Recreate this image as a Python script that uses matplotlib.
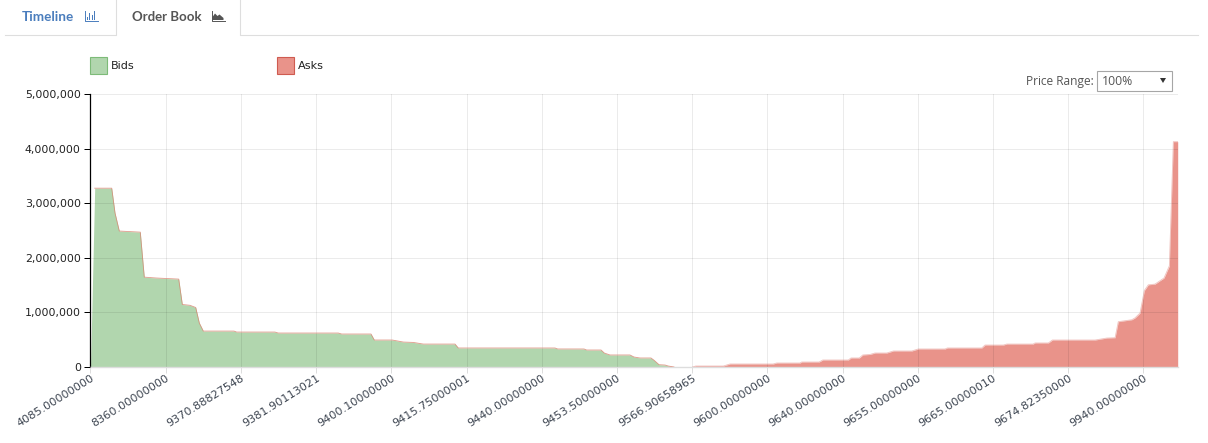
import matplotlib
matplotlib.use("Agg")
import matplotlib.pyplot as plt
from matplotlib.patches import Rectangle, Polygon
from matplotlib.ticker import FuncFormatter

W, H = 1208, 443

tick_labels = ["4085.00000000", "8360.00000000", "9370.88827548", "9381.90113021",
               "9400.10000000", "9415.75000001", "9440.00000000", "9453.50000000",
               "9566.90658965", "9600.00000000", "9640.00000000", "9655.00000000",
               "9665.00000010", "9674.82350000", "9940.00000000"]

bid_levels = [0, .56, 2.82, 3.26, 3.83, 6.62, 7.15, 8.71, 11.73, 12.21, 13.23, 13.99, 14.47,
              15.0, 19.08, 19.44, 24.53, 24.97, 32.95, 33.4, 37.3, 37.74, 40.13, 41.6, 42.93,
              44.26, 48.47, 48.91, 61.77, 62.13, 65.63, 65.98, 67.89, 68.32, 69.08, 71.74,
              72.27, 73.07, 74.53, 74.97, 75.6, 76.4, 76.83, 77.59]
bid_depth = [0, 3275000, 3275000, 2820000, 2490000, 2470000, 1646000, 1630000, 1610000, 1145000,
             1130000, 1090000, 805000, 658000, 658000, 640000, 640000, 622000, 622000, 604000,
             604000, 494000, 494000, 457000, 450000, 420000, 420000, 348000, 348000, 330000,
             330000, 311000, 311000, 256000, 220000, 220000, 183000, 165000, 165000, 120000,
             42000, 36000, 18000, 0]

ask_levels = [80.08, 80.48, 84.15, 85.04, 90.76, 91.25, 94.35, 94.57, 96.88, 97.37, 100.77,
              101.13, 102.23, 102.69, 103.66, 104.32, 105.88, 106.76, 109.2, 110.08, 113.63,
              113.94, 118.51, 118.95, 121.38, 121.84, 125.33, 125.6, 127.37, 127.9, 133.58,
              135.13, 136.24, 136.67, 138.46, 138.9, 139.56, 140.13, 140.66, 141.55, 142.75,
              143.46, 143.99, 144.57]
ask_depth = [0, 18000, 18000, 55000, 55000, 73000, 73000, 91000, 91000, 128000, 128000, 165000,
             165000, 220000, 230000, 256000, 256000, 293000, 293000, 330000, 330000, 348000,
             348000, 402000, 402000, 420000, 420000, 440000, 440000, 494000, 494000, 530000,
             536000, 830000, 865000, 900000, 988000, 1400000, 1505000, 1518000, 1630000,
             1853000, 4127000, 4127000]

plt.rcParams["font.family"] = ["DejaVu Sans"]
fig = plt.figure(figsize=(W / 100, H / 100), dpi=100, facecolor="white")

L, R, T, B = 90.5, 1177.7, 94.0, 367.0
ax = fig.add_axes([L / W, 1 - B / H, (R - L) / W, (B - T) / H])
ax.set_xlim(0, 144.57)
ax.set_ylim(0, 5000000)
ax.set_facecolor("none")

GREEN, RED = "#b1d6ae", "#e9938a"
ax.fill_between(bid_levels, bid_depth, 0, color=GREEN, lw=0, zorder=2)
ax.fill_between(ask_levels, ask_depth, 0, color=RED, lw=0, zorder=2)
ax.plot(bid_levels[1:], bid_depth[1:], color="#d9826f", lw=0.6, alpha=0.8, zorder=3)
ax.plot(ask_levels, ask_depth, color="#d9645a", lw=0.6, alpha=0.4, zorder=3)

xt = list(range(0, 150, 10))
ax.set_xticks(xt)
ax.set_xticklabels(tick_labels, rotation=32, ha="right", rotation_mode="anchor",
                   fontsize=8.1, color="#3c4450")
ax.set_yticks(range(0, 5000001, 1000000))
ax.yaxis.set_major_formatter(FuncFormatter(lambda v, p: f"{int(v):,}"))
ax.tick_params(axis="y", length=4, width=0.72, color="black", labelsize=7.9, labelcolor="#222222", pad=3)
ax.tick_params(axis="x", length=4, width=0.72, color="#dddddd", pad=0.5)
ax.grid(True, color="black", alpha=0.08, lw=0.72, zorder=4)
ax.set_axisbelow(False)
for s in ("top", "right"):
    ax.spines[s].set_visible(False)
ax.spines["left"].set_color("black")
ax.spines["left"].set_linewidth(0.9)
ax.spines["bottom"].set_color("#dddddd")
ax.spines["bottom"].set_linewidth(1.0)

# page chrome in pixel coordinates
ov = fig.add_axes([0, 0, 1, 1], zorder=10)
ov.set_xlim(0, W)
ov.set_ylim(H, 0)
ov.axis("off")
ov.patch.set_alpha(0)

LINE = "#dedede"
ov.plot([5, 116, 116], [35, 35, 0], color=LINE, lw=0.8)
ov.plot([240, 240, 1198], [0, 35, 35], color=LINE, lw=0.8)
ov.text(22, 17, "Timeline", fontsize=9.7, fontweight="bold", family="Lato", color="#4a7dbd", va="center")
ov.text(132, 17, "Order Book", fontsize=9.5, fontweight="bold", family="Lato", color="#555555", va="center")

# tab icons
ov.plot([84.5, 84.5, 97.5], [11, 21, 21], color="#4a7dbd", lw=0.7)
for bx, bh in zip([86.5, 89, 91.5, 94], [3, 7, 5, 9]):
    ov.add_patch(Rectangle((bx, 20 - bh), 1.4, bh, color="#4a7dbd", lw=0))
ov.plot([211.5, 211.5, 224.5], [11, 21, 21], color="#555555", lw=0.7)
ov.add_patch(Polygon([(212.5, 20), (212.5, 17), (215, 13.5), (217.5, 16), (219.5, 14.5), (223.5, 18), (223.5, 20)],
                     color="#555555", lw=0))

# legend
ov.add_patch(Rectangle((90, 57), 16.5, 16.5, fc=GREEN, ec="#7dbb78", lw=0.8))
ov.text(111, 65.5, "Bids", fontsize=8.1, color="#222222", va="center")
ov.add_patch(Rectangle((277, 57), 16.5, 16.5, fc=RED, ec="#cf5b50", lw=0.8))
ov.text(298, 65.5, "Asks", fontsize=8.1, color="#222222", va="center")

# price range control
ov.text(1094, 81.5, "Price Range:", fontsize=8.6, family="Open Sans", color="#555555", va="center", ha="right")
ov.add_patch(Rectangle((1097, 71), 75, 20, fc="white", ec="#a6a6a6", lw=0.8))
ov.text(1102, 81.5, "100%", fontsize=8.8, family="Open Sans", color="#555555", va="center")
ov.add_patch(Polygon([(1160, 78), (1166, 78), (1163, 83)], color="#333333", lw=0))

fig.savefig("out.png", dpi=100, facecolor="white")
